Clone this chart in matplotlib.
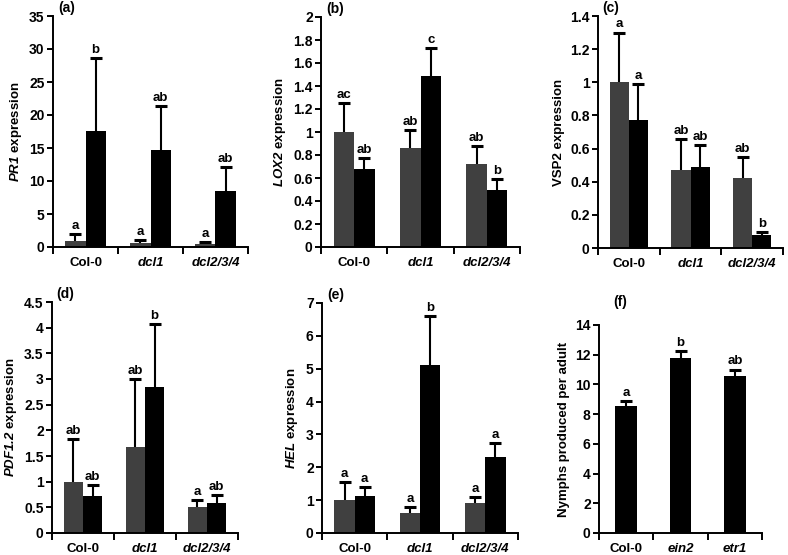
import numpy as np
import matplotlib
matplotlib.use("Agg")
import matplotlib.pyplot as plt
from matplotlib.ticker import FuncFormatter, FixedLocator

plt.rcParams['font.family'] = ['Liberation Sans', 'DejaVu Sans']
plt.rcParams['font.weight'] = 'bold'
plt.rcParams['mathtext.fontset'] = 'custom'
plt.rcParams['mathtext.rm'] = 'Liberation Sans:bold'
plt.rcParams['mathtext.it'] = 'Liberation Sans:italic:bold'
plt.rcParams['mathtext.bf'] = 'Liberation Sans:bold'
plt.rcParams['mathtext.bfit'] = 'Liberation Sans:italic:bold'

genotypes = ["Col-0", "dcl1", "dcl2/3/4"]
geno_italic = [False, True, True]

# panel (a) PR1
pr1_grey = [0.9, 0.6, 0.4]
pr1_grey_top = [1.9, 1.1, 0.7]
pr1_black = [17.6, 14.7, 8.5]
pr1_black_top = [28.6, 21.4, 12.1]
pr1_grey_let = ["a", "a", "a"]
pr1_black_let = ["b", "ab", "ab"]

# panel (b) LOX2
lox2_grey = [1.0, 0.86, 0.72]
lox2_grey_top = [1.25, 1.02, 0.88]
lox2_black = [0.68, 1.49, 0.50]
lox2_black_top = [0.77, 1.73, 0.59]
lox2_grey_let = ["ac", "ab", "ab"]
lox2_black_let = ["ab", "c", "b"]

# panel (c) VSP2
vsp2_grey = [1.0, 0.47, 0.42]
vsp2_grey_top = [1.30, 0.66, 0.55]
vsp2_black = [0.77, 0.49, 0.08]
vsp2_black_top = [0.99, 0.62, 0.095]
vsp2_grey_let = ["a", "ab", "ab"]
vsp2_black_let = ["a", "ab", "b"]

# panel (d) PDF1.2
pdf_grey = [1.0, 1.68, 0.50]
pdf_grey_top = [1.83, 3.0, 0.65]
pdf_black = [0.72, 2.85, 0.58]
pdf_black_top = [0.93, 4.07, 0.74]
pdf_grey_let = ["ab", "ab", "a"]
pdf_black_let = ["ab", "b", "ab"]

# panel (e) HEL
hel_grey = [1.0, 0.62, 0.90]
hel_grey_top = [1.55, 0.78, 1.10]
hel_black = [1.12, 5.1, 2.3]
hel_black_top = [1.40, 6.6, 2.73]
hel_grey_let = ["a", "a", "a"]
hel_black_let = ["a", "b", "a"]

# panel (f) nymphs
lines_f = ["Col-0", "ein2", "etr1"]
lines_f_italic = [False, True, True]
nymphs = [8.55, 11.8, 10.6]
nymphs_top = [8.9, 12.25, 11.0]
nymphs_let = ["a", "b", "ab"]

W, H = 788, 555
fig = plt.figure(figsize=(W / 100, H / 100), dpi=100)

def px_axes(l, r, t, b):
    return fig.add_axes([l / W, 1 - b / H, (r - l) / W, (b - t) / H])

def fmt(v, pos):
    return "%g" % round(v, 2)

def style_axes(ax, ymax, ystep, names, italics, label, plabel, plabel_pos=(0.025, 1.035)):
    for s in ['top', 'right']:
        ax.spines[s].set_visible(False)
    for s in ['left', 'bottom']:
        ax.spines[s].set_linewidth(1.4)
    n = len(names)
    ax.set_xlim(-0.5, n - 0.5)
    ax.set_ylim(0, ymax)
    ax.yaxis.set_major_locator(FixedLocator(np.arange(0, ymax + ystep / 2, ystep)))
    ax.yaxis.set_major_formatter(FuncFormatter(fmt))
    ax.tick_params(axis='y', direction='out', length=4, width=1.4, labelsize=10, pad=2)
    ax.set_xticks(np.arange(-0.5, n, 1.0))
    ax.set_xticklabels([])
    ax.tick_params(axis='x', which='major', direction='out', length=5, width=1.4)
    ax.set_xticks(np.arange(n), minor=True)
    ax.set_xticklabels(names, minor=True)
    ax.tick_params(axis='x', which='minor', length=0, labelsize=9.5, pad=7)
    for t, it in zip(ax.get_xticklabels(minor=True), italics):
        t.set_fontstyle('italic' if it else 'normal')
        t.set_fontweight('bold')
    ax.set_ylabel(label, fontsize=9.5, fontweight='bold', labelpad=4)
    ax.text(plabel_pos[0], plabel_pos[1], plabel, transform=ax.transAxes,
            fontsize=10, fontweight='bold', ha='left', va='center')

def draw_bars(ax, x, vals, tops, lets, color, width):
    ax.bar(x, vals, width=width, color=color, edgecolor='none', zorder=2)
    upper = np.array(tops) - np.array(vals)
    eb = ax.errorbar(x, vals, yerr=[np.zeros(len(vals)), upper], fmt='none',
                     ecolor='black', elinewidth=1.5, capsize=4.5, capthick=2.2, zorder=1)
    eb[1][0].set_visible(False)
    for xi, t, l in zip(x, tops, lets):
        ax.annotate(l, (xi, t), xytext=(0, 1.5), textcoords='offset points',
                    ha='center', va='bottom', fontsize=9.5, fontweight='bold')

grey = '#404040'
x = np.arange(3)
off = 0.155
bw = 0.31

panels = [
    ((53, 248, 16, 247), pr1_grey, pr1_grey_top, pr1_black, pr1_black_top, pr1_grey_let, pr1_black_let,
     35, 5, r'$\mathbfit{PR1}$ expression', '(a)'),
    ((321, 520, 17, 247), lox2_grey, lox2_grey_top, lox2_black, lox2_black_top, lox2_grey_let, lox2_black_let,
     2, 0.2, r'$\mathbfit{LOX2}$ expression', '(b)'),
    ((598, 783, 16, 248), vsp2_grey, vsp2_grey_top, vsp2_black, vsp2_black_top, vsp2_grey_let, vsp2_black_let,
     1.4, 0.2, 'VSP2 expression', '(c)'),
    ((52, 238, 302, 533), pdf_grey, pdf_grey_top, pdf_black, pdf_black_top, pdf_grey_let, pdf_black_let,
     4.5, 0.5, r'$\mathbfit{PDF1.2}$ expression', '(d)'),
    ((322, 518, 303, 533), hel_grey, hel_grey_top, hel_black, hel_black_top, hel_grey_let, hel_black_let,
     7, 1, r'$\mathbfit{HEL}$ expression', '(e)'),
]

for box, g, gt, b, bt, gl, bl, ymax, ystep, lab, pl in panels:
    ax = px_axes(*box)
    draw_bars(ax, x - off, g, gt, gl, grey, bw)
    draw_bars(ax, x + off, b, bt, bl, 'black', bw)
    style_axes(ax, ymax, ystep, genotypes, geno_italic, lab, pl)

ax = px_axes(599, 762, 325, 533)
draw_bars(ax, np.arange(3), nymphs, nymphs_top, nymphs_let, 'black', 0.4)
style_axes(ax, 14, 2, lines_f, lines_f_italic, 'Nymphs produced per adult', '(f)',
           plabel_pos=(0.09, 1.11))

fig.savefig("out.png", dpi=100)
